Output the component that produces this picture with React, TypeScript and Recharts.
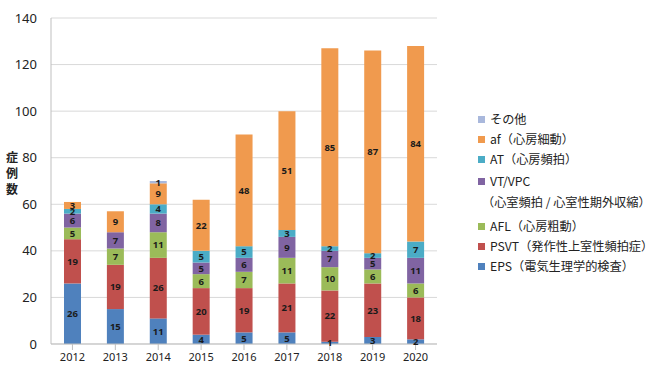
import { BarChart, Bar, XAxis, YAxis, CartesianGrid, LabelList } from 'recharts'

const years = ['2012', '2013', '2014', '2015', '2016', '2017', '2018', '2019', '2020']

// series values, bottom of the stack first
const eps = [26, 15, 11, 4, 5, 5, 1, 3, 2]
const psvt = [19, 19, 26, 20, 19, 21, 22, 23, 18]
const afl = [5, 7, 11, 6, 7, 11, 10, 6, 6]
const vt = [6, 7, 8, 5, 6, 9, 7, 5, 11]
const at = [2, 0, 4, 5, 5, 3, 2, 2, 7]
const af = [3, 9, 9, 22, 48, 51, 85, 87, 84]
const other = [0, 0, 1, 0, 0, 0, 0, 0, 0]

const yTicks = [0, 20, 40, 60, 80, 100, 120, 140]

const SERIES = [
  { key: 'eps', name: 'EPS（電気生理学的検査）', color: '#4f81bd', values: eps },
  { key: 'psvt', name: 'PSVT（発作性上室性頻拍症）', color: '#c0504d', values: psvt },
  { key: 'afl', name: 'AFL（心房粗動）', color: '#9bbb59', values: afl },
  { key: 'vt', name: 'VT/VPC\n（心室頻拍 / 心室性期外収縮）', color: '#8064a2', values: vt },
  { key: 'at', name: 'AT（心房頻拍）', color: '#4bacc6', values: at },
  { key: 'af', name: 'af（心房細動）', color: '#f09a4e', values: af },
  { key: 'other', name: 'その他', color: '#a9b8dc', values: other },
]

const data = years.map((year, i) => {
  const row: Record<string, any> = { year }
  SERIES.forEach(s => { row[s.key] = s.values[i] })
  return row
})

const FONT = '"Noto Sans", "Noto Sans CJK JP", sans-serif'

export default function App() {
  return (
    <div style={{ position: 'absolute', left: 0, top: 0, width: 654, height: 372, background: '#fff', fontFamily: FONT, overflow: 'hidden' }}>
      <BarChart
        width={654}
        height={372}
        data={data}
        margin={{ top: 18, right: 217, bottom: 0, left: 0 }}
        barSize={17}
      >
        <CartesianGrid vertical={false} stroke="#d9d9d9" />
        <XAxis
          dataKey="year"
          stroke="#bfbfbf"
          tickLine={{ stroke: '#bfbfbf' }}
          tick={{ fontSize: 11, fill: '#222', fontFamily: FONT }}
          tickMargin={3}
          height={28}
        />
        <YAxis
          domain={[0, 140]}
          ticks={yTicks}
          width={51}
          stroke="#bfbfbf"
          tickLine={false}
          tick={{ fontSize: 13, fill: '#222', fontFamily: FONT }}
          tickMargin={8}
        />
        {SERIES.map(s => (
          <Bar key={s.key} dataKey={s.key} stackId="a" fill={s.color} isAnimationActive={false}>
            <LabelList
              dataKey={s.key}
              position="center"
              formatter={(v: any) => (v ? v : '')}
              style={{ fontSize: 9.5, fontWeight: 700, fill: '#1a1a1a', fontFamily: FONT }}
            />
          </Bar>
        ))}
      </BarChart>

      {/* y axis title, stacked vertically */}
      <div style={{ position: 'absolute', left: 4, top: 149, width: 16, fontSize: 12, fontWeight: 700, lineHeight: '16px', color: '#222', fontFamily: '"Noto Sans CJK JP", sans-serif', textAlign: 'center' }}>
        <div>症</div>
        <div>例</div>
        <div>数</div>
      </div>

      <div style={{ position: 'absolute', left: 478, top: 109, width: 174, fontFamily: '"Noto Sans CJK JP", sans-serif', fontSize: 12.2, color: '#222' }}>
        {[...SERIES].reverse().map(s => {
          const lines = s.name.split('\n')
          const multi = lines.length > 1
          return (
            <div key={s.key} style={{ display: 'flex', alignItems: 'flex-start', lineHeight: '21px', margin: multi ? '2px 0 3px 0' : 0, height: multi ? 42 : 20 }}>
              <span style={{ width: 7, height: 7, background: s.color, marginTop: 7, marginRight: 5, flexShrink: 0 }} />
              <div>
                {lines.map((l, i) => (
                  <div key={i} style={{ marginLeft: i > 0 ? -8 : 0, whiteSpace: 'nowrap' }}>{l}</div>
                ))}
              </div>
            </div>
          )
        })}
      </div>
    </div>
  )
}
